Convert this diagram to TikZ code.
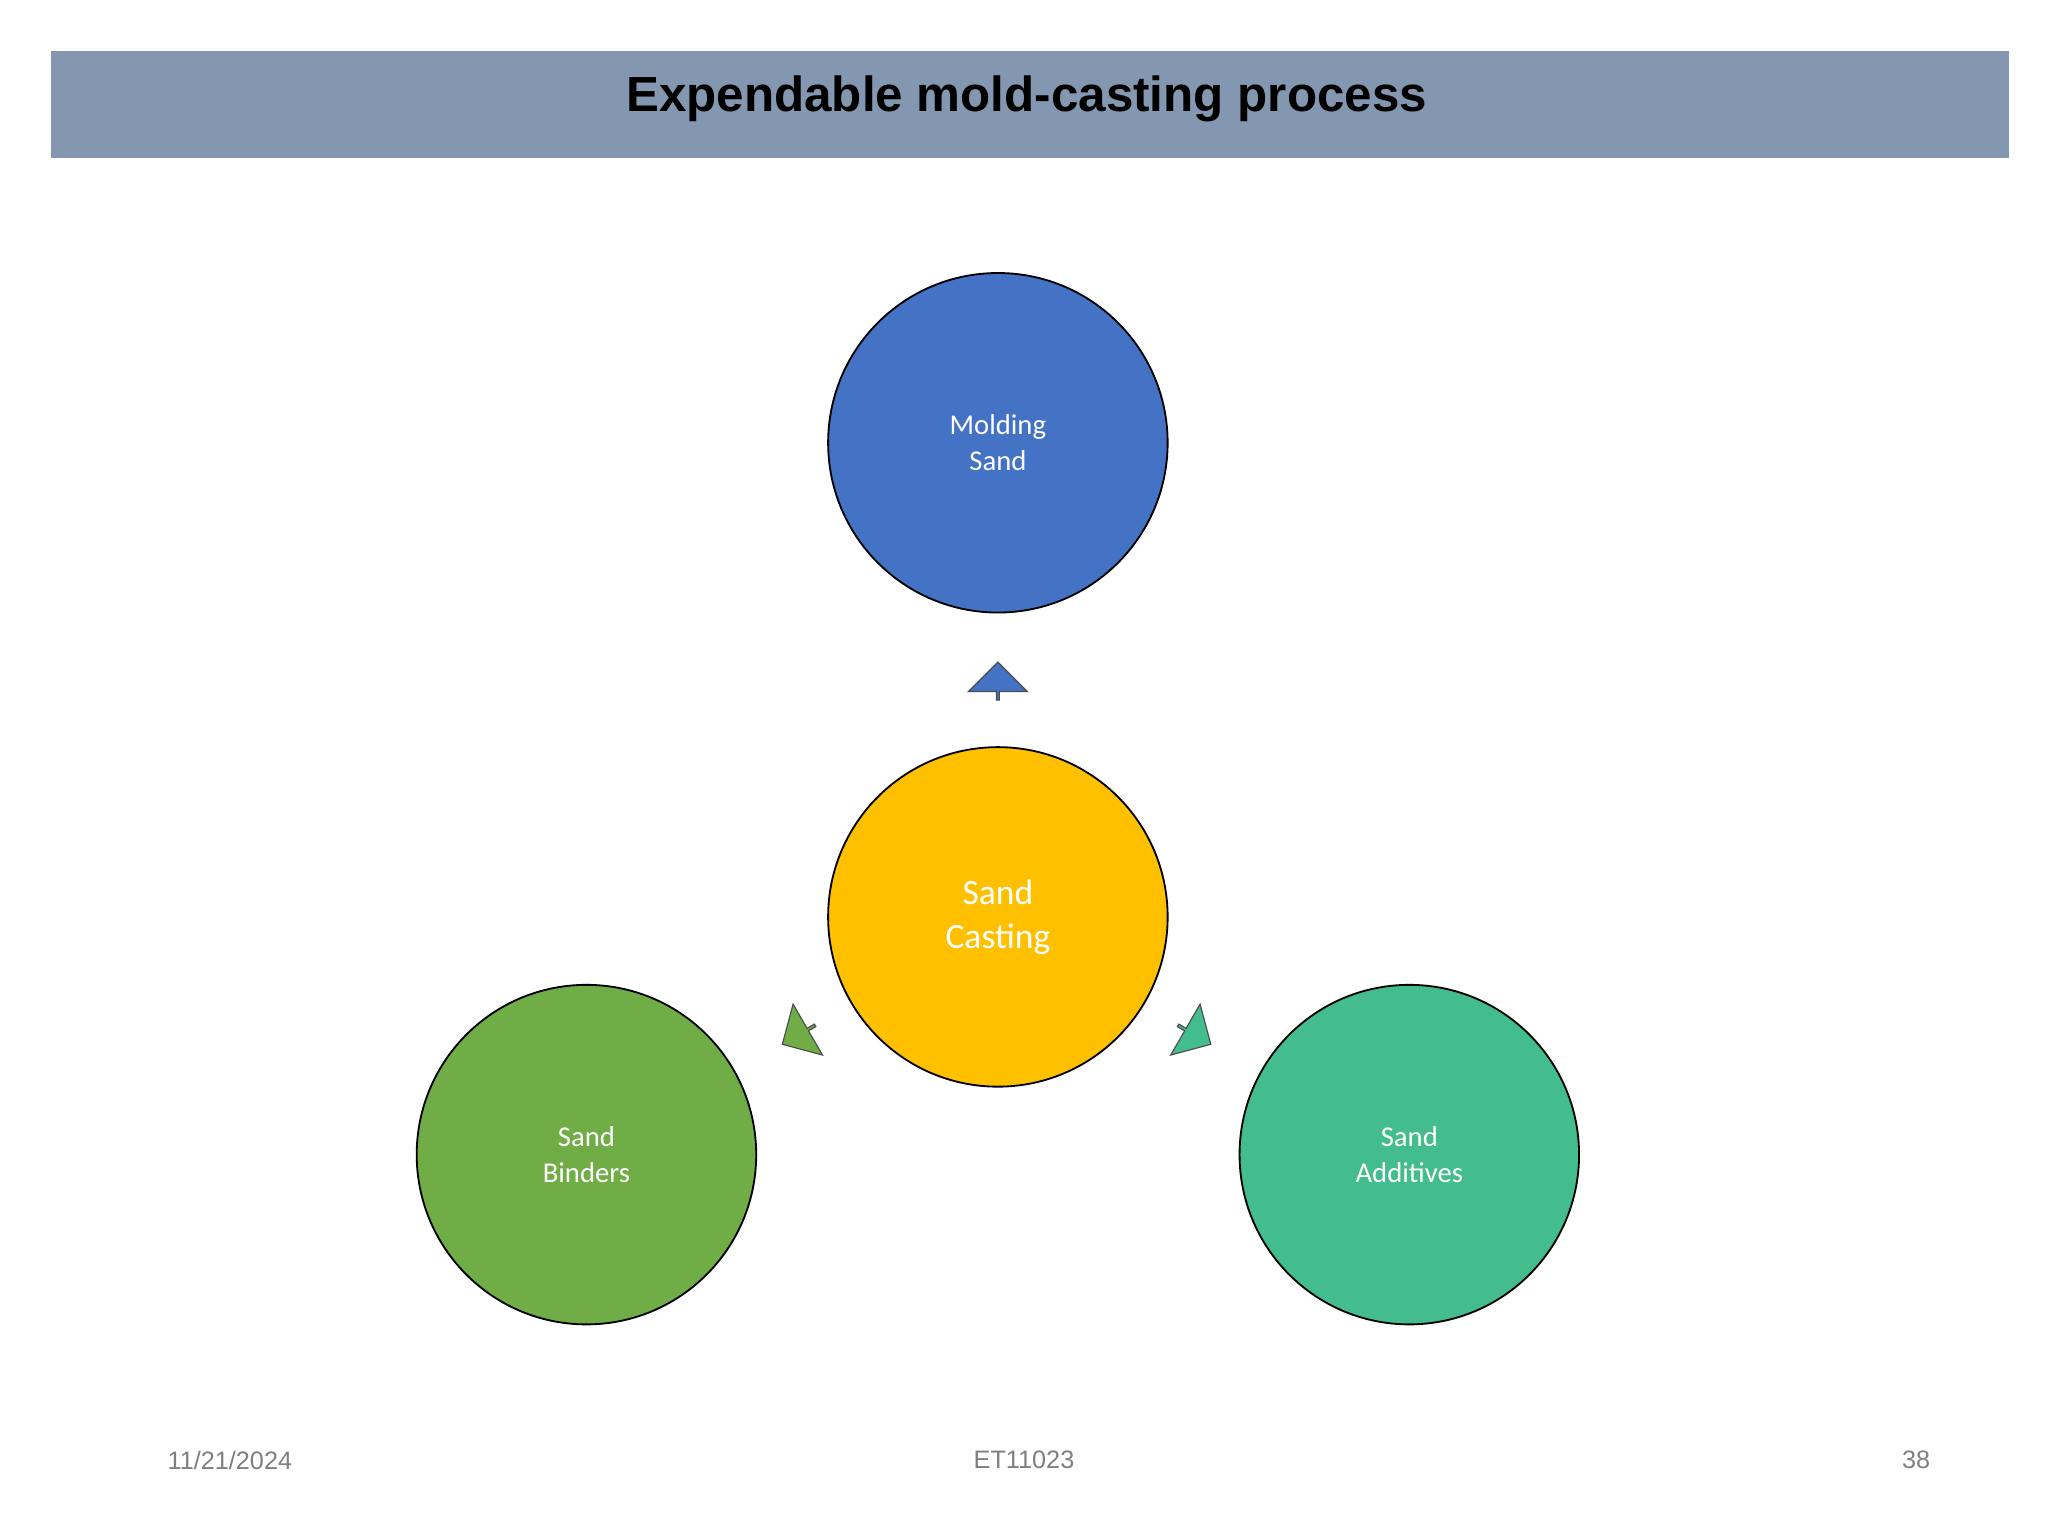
\documentclass[tikz,border=0pt]{standalone}
\usepackage{fontspec}
\setmainfont{Liberation Sans}
\newfontfamily\carl{Carlito}
\usetikzlibrary{shapes.arrows,calc}
\definecolor{bar}{HTML}{8497B0}
\definecolor{cblue}{HTML}{4472C4}
\definecolor{cyel}{HTML}{FFC000}
\definecolor{cgreen}{HTML}{70AD47}
\definecolor{cteal}{HTML}{43BC8E}
\definecolor{foot}{HTML}{7F7F7F}
\tikzset{
 circ/.style={circle,draw=black,line width=0.8pt,minimum size=5.2cm,inner sep=0pt,text=white,align=center,font=\carl\fontsize{12.5}{15.5}\selectfont},
 arr/.style={single arrow,draw=black!70,line width=0.5pt,minimum height=0.58cm,minimum width=0.9cm,single arrow head extend=0.17cm,inner sep=0pt},
 foot/.style={text=foot,font=\fontsize{11}{13}\selectfont}
}
\begin{document}
\begin{tikzpicture}[x=0.02cm,y=-0.02cm]
\useasboundingbox (0,0) rectangle (1568,1176);
\fill[bar] (39,39) rectangle (1538,121);
\node[font=\bfseries\fontsize{21.5}{24}\selectfont] (title) at (786,76) {Expendable mold-casting process};
\node[circ,fill=cblue] (mold) at (764,339) {Molding\\Sand};
\node[circ,fill=cyel,font=\carl\fontsize{15.5}{19}\selectfont] (cast) at (764,702) {Sand\\Casting};
\node[circ,fill=cgreen] (bind) at (449,884) {Sand\\Binders};
\node[circ,fill=cteal] (add) at (1079,884) {Sand\\Additives};
\node[arr,fill=cblue,rotate=90] (a1) at (764,522) {};
\node[arr,fill=cgreen,rotate=210] (a2) at (612,792) {};
\node[arr,fill=cteal,rotate=330] (a3) at (914,792) {};
\node[foot] (d) at (176,1118) {11/21/2024};
\node[foot] (e) at (784,1118) {ET11023};
\node[foot] (p) at (1467,1118) {38};
\end{tikzpicture}
\end{document}
